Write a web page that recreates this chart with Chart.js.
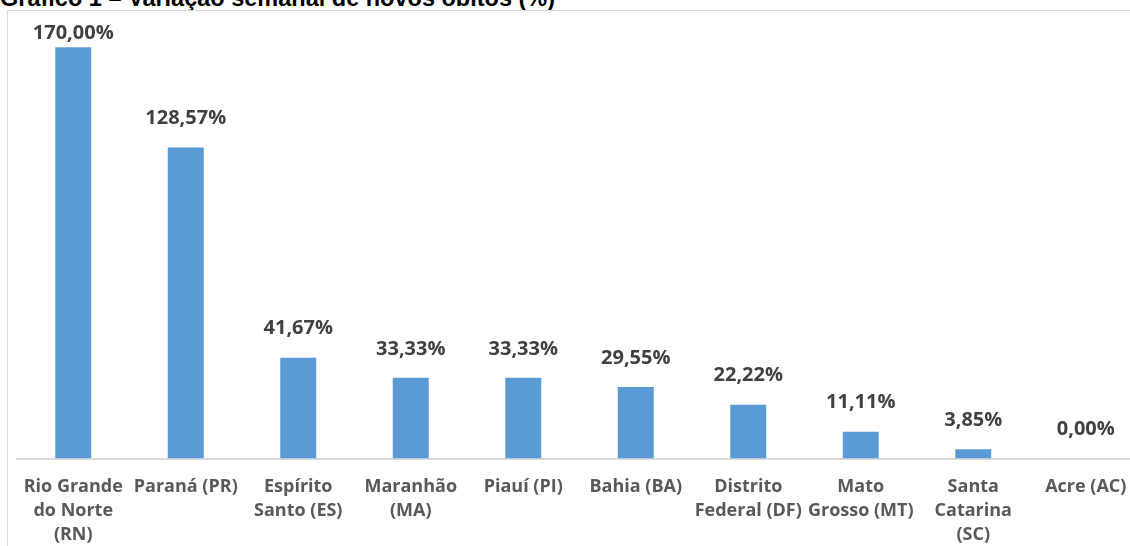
<!DOCTYPE html>
<html>
<head>
<meta charset="utf-8">
<script src="https://cdn.jsdelivr.net/npm/chart.js@4"></script>
<style>
  html, body { margin: 0; padding: 0; background: #fff; overflow: hidden; width: 1130px; height: 546px; }
  #title {
    position: absolute; left: 0; top: -13px; white-space: nowrap;
    font: bold 23.5px "Liberation Sans", Arial, sans-serif; line-height: 23px; color: #000;
  }
  #box {
    position: absolute; left: 7px; top: 10px;
    border: 1px solid #D9D9D9; background: #fff;
  }
  canvas { display: block; }
</style>
</head>
<body>
<div id="title">Gráfico 1 – Variação semanal de novos óbitos (%)</div>
<div id="box"><canvas id="chart" width="1150" height="580"></canvas></div>
<script>
// estados (rótulos quebrados em linhas como no original)
const states = [
  ['Rio Grande', 'do Norte', '(RN)'],
  'Paraná (PR)',
  ['Espírito', 'Santo (ES)'],
  ['Maranhão', '(MA)'],
  'Piauí (PI)',
  'Bahia (BA)',
  ['Distrito', 'Federal (DF)'],
  ['Mato', 'Grosso (MT)'],
  ['Santa', 'Catarina', '(SC)'],
  'Acre (AC)'
];
// variação semanal de novos óbitos, %
const weeklyChange = [170.00, 128.57, 41.67, 33.33, 33.33, 29.55, 22.22, 11.11, 3.85, 0.00];

const yMin = 0;
const yMax = 180;

const fmt = v => v.toFixed(2).replace('.', ',') + '%';

// rótulos de valor acima das barras
const valueLabels = {
  id: 'valueLabels',
  afterDatasetsDraw(chart) {
    const ctx = chart.ctx;
    const area = chart.chartArea;
    const meta = chart.getDatasetMeta(0);
    ctx.save();
    ctx.font = 'bold 20px "Open Sans"';
    ctx.fillStyle = '#404040';
    ctx.textAlign = 'center';
    ctx.textBaseline = 'middle';
    meta.data.forEach((bar, i) => {
      const y = Math.max(bar.y - 29, area.top + 10);
      ctx.fillText(fmt(weeklyChange[i]), bar.x, y);
    });
    ctx.restore();
  }
};

new Chart(document.getElementById('chart').getContext('2d'), {
  type: 'bar',
  data: {
    labels: states,
    datasets: [{
      data: weeklyChange,
      backgroundColor: '#5B9BD5',
      borderWidth: 0,
      categoryPercentage: 1,
      barPercentage: 0.32
    }]
  },
  plugins: [valueLabels],
  options: {
    responsive: false,
    animation: false,
    layout: { padding: { left: 9, right: 16, top: 12, bottom: 41 } },
    plugins: { legend: { display: false }, tooltip: { enabled: false } },
    scales: {
      x: {
        grid: { display: false, drawTicks: true, tickLength: 13.5 },
        border: { display: true, color: '#D9D9D9', width: 2 },
        ticks: {
          color: '#595959',
          padding: 3,
          maxRotation: 0,
          autoSkip: false,
          font: { family: '"Open Sans"', size: 18, weight: 'bold', lineHeight: 1.333 }
        }
      },
      y: { display: false, min: yMin, max: yMax }
    }
  }
});
</script>
</body>
</html>
